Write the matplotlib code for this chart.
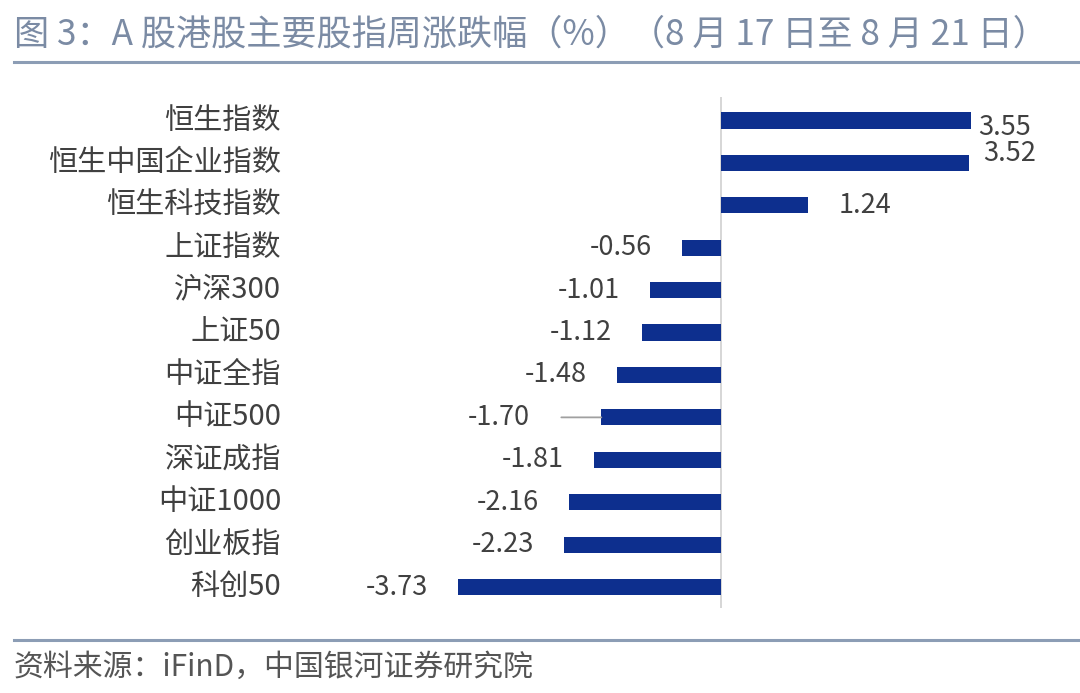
import matplotlib
matplotlib.use("Agg")
import matplotlib.pyplot as plt
import matplotlib.transforms as mtransforms

plt.rcParams['font.family'] = ['Noto Sans CJK SC', 'DejaVu Sans']

categories = ["恒生指数", "恒生中国企业指数", "恒生科技指数", "上证指数", "沪深300", "上证50",
              "中证全指", "中证500", "深证成指", "中证1000", "创业板指", "科创50"]
values = [3.55, 3.52, 1.24, -0.56, -1.01, -1.12, -1.48, -1.70, -1.81, -2.16, -2.23, -3.73]
value_labels = ["3.55", "3.52", "1.24", "-0.56", "-1.01", "-1.12", "-1.48", "-1.70",
                "-1.81", "-2.16", "-2.23", "-3.73"]

title = "图 3：A 股港股主要股指周涨跌幅（%）（8 月 17 日至 8 月 21 日）"
source = "资料来源：iFinD，中国银河证券研究院"

W, H = 1080, 693
fig = plt.figure(figsize=(W / 100, H / 100), dpi=100)

# axes geometry (pixels)
ax_l, ax_r, ax_t, ax_b = 440, 1050, 97, 608
ax = fig.add_axes([ax_l / W, 1 - ax_b / H, (ax_r - ax_l) / W, (ax_b - ax_t) / H])
zero_px, ppu = 721, 70.4
ax.set_xlim((ax_l - zero_px) / ppu, (ax_r - zero_px) / ppu)
ax.set_ylim(11 + (608 - 587) / 42.45, -(120.5 - 97) / 42.45)

bar_color = "#0d2f8e"
ypos = list(range(len(categories)))
ax.barh(ypos, values, height=0.38, color=bar_color, zorder=2)
ax.axvline(0, color="#cfcfcf", lw=1.2, zorder=1)

for s in ax.spines.values():
    s.set_visible(False)
ax.set_xticks([])
ax.set_yticks([])

txt_color = "#404040"
# category labels
trans = mtransforms.blended_transform_factory(fig.transFigure, ax.transData)
for y, c in zip(ypos, categories):
    ax.text(281 / W, y, c, transform=trans, ha="right", va="center",
            fontsize=21, color=txt_color)

# value labels (pixel offsets: dx, dy)
offsets = {0: (7, -7), 1: (14, 9), 7: (-71, 0)}
for i, (y, v, lab) in enumerate(zip(ypos, values, value_labels)):
    default = 30 if v >= 0 else -30
    dx, dy = offsets.get(i, (default, 0))
    ax.annotate(lab, xy=(v, y), xytext=(dx, dy), textcoords="offset pixels",
                ha="left" if v >= 0 else "right", va="center",
                fontsize=19.5, color=txt_color)
# leader line for 中证500
i = 7
ax.annotate("", xy=(values[i], i), xytext=(-40, 0), textcoords="offset pixels",
            arrowprops=dict(arrowstyle="-", color="#a0a0a0", lw=1.3, shrinkA=0, shrinkB=0))

# title, rules, source
title_color = "#7b8ba4"
fig.text(14 / W, 1 - 35 / H, title, ha="left", va="center", fontsize=25.3, color=title_color)
rule_color = "#8c9db5"
fig.add_artist(plt.Line2D([14 / W, 1078 / W], [1 - 62 / H, 1 - 62 / H], color=rule_color, lw=2.2))
fig.add_artist(plt.Line2D([14 / W, 1078 / W], [1 - 640 / H, 1 - 640 / H], color=rule_color, lw=2.2))
fig.text(14 / W, 1 - 667 / H, source, ha="left", va="center", fontsize=21.5,
         color="#555555", style="italic")

fig.savefig("out.png", dpi=100, facecolor="white")
